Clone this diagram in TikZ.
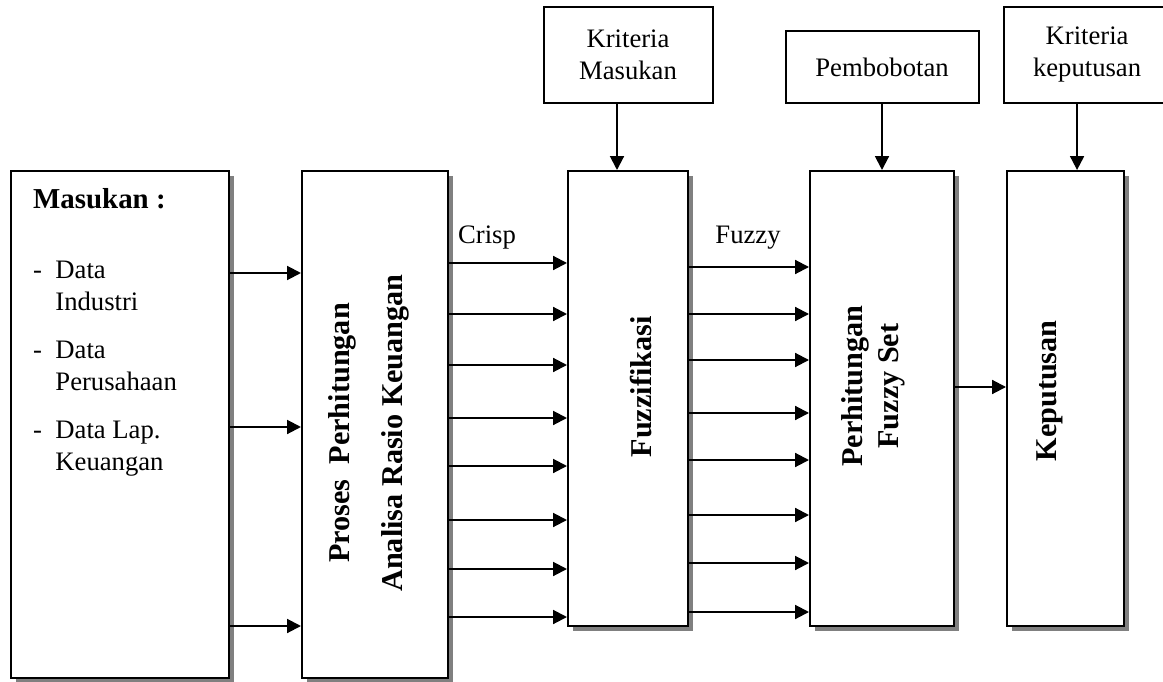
\documentclass[tikz,border=0pt]{standalone}
\usepackage{fontspec}
\setmainfont{Liberation Serif}
\usetikzlibrary{arrows.meta, positioning, calc, shadows}

\begin{document}
\begin{tikzpicture}[>={Triangle[length=6.2pt, width=6.2pt]}, line width=0.9pt,
  block/.style={draw, fill=white, inner sep=0pt,
    drop shadow={shadow xshift=2.3pt, shadow yshift=-2.3pt, fill=black!50, opacity=1}},
  topblock/.style={draw, fill=white, align=center, minimum height=43.2pt,
    font=\fontsize{12}{14.4}\selectfont},
  vtext/.style={rotate=90, align=center, font=\fontsize{13.6}{16.3}\selectfont\bfseries},
  flow/.style={->}]
  \useasboundingbox (0,0) rectangle (523.35pt,-306.9pt);

  % main row of blocks
  \node[block, minimum width=98.1pt, minimum height=228.15pt, anchor=north west]
    (masukan) at (4.5pt,-76.5pt) {};
  \node[block, minimum width=65.7pt, minimum height=228.15pt,
    right=31.95pt of masukan.north east, anchor=north west] (proses) {};
  \node[block, minimum width=54pt, minimum height=204.75pt,
    right=53.1pt of proses.north east, anchor=north west] (fuzz) {};
  \node[block, minimum width=64.8pt, minimum height=204.75pt,
    right=54pt of fuzz.north east, anchor=north west] (perh) {};
  \node[block, minimum width=52.65pt, minimum height=204.75pt,
    right=22.95pt of perh.north east, anchor=north west] (keput) {};

  % texts inside the blocks
  \node[anchor=north west, align=left, inner sep=0pt, font=\fontsize{12}{14.4}\selectfont]
    (masukantext) at ([xshift=10pt, yshift=-7.8pt]masukan.north west)
    {{\fontsize{13}{15.6}\selectfont\bfseries Masukan :}\\[17pt]
     \begin{tabular}[t]{@{}l@{\hspace{6pt}}l@{}}
       - & Data\\ & Industri\\[7.2pt]
       - & Data\\ & Perusahaan\\[7.2pt]
       - & Data Lap.\\ & Keuangan
     \end{tabular}};
  \node[vtext] (prosestext) at ([xshift=-2.7pt, yshift=-3.8pt]proses.center)
    {Proses\ \ Perhitungan\\[7.5pt]Analisa Rasio Keuangan};
  \node[vtext] (fuzztext) at ([xshift=5.8pt, yshift=5.2pt]fuzz.center) {Fuzzifikasi};
  \node[vtext] (perhtext) at ([xshift=-4pt, yshift=5.6pt]perh.center) {Perhitungan\\Fuzzy Set};
  \node[vtext] (keputtext) at ([xshift=-7pt, yshift=3.4pt]keput.center) {Keputusan};

  % criteria on top
  \node[topblock, minimum width=76.05pt, above=29.7pt of fuzz] (kritmas) {Kriteria\\Masukan};
  \node[topblock, minimum width=86.85pt, minimum height=32.4pt, above=29.7pt of perh] (bobot) {Pembobotan};
  \node[topblock, minimum width=74.7pt, above=29.7pt of keput, xshift=9.7pt] (kritkep) {Kriteria\\keputusan};

  \coordinate (inkm) at ([xshift=-4.95pt]fuzz.north);
  \coordinate (inkk) at ([xshift=5.2pt]keput.north);
  \draw[flow] (inkm |- kritmas.south) -- (inkm);
  \draw[flow] (bobot.south) -- (perh.north);
  \draw[flow] (inkk |- kritkep.south) -- (inkk);

  % flows between the blocks
  \foreach \d in {46.35, 115.65, 205.2}
    \draw[flow] ([yshift=-\d pt]masukan.north east) -- ([yshift=-\d pt]proses.north west);
  \foreach \d in {41.85, 64.8, 87.75, 111.6, 133.2, 157.5, 179.55, 201.15}
    \draw[flow] ([yshift=-\d pt]proses.north east) -- ([yshift=-\d pt]fuzz.north west);
  \foreach \d in {43.65, 64.8, 85.5, 109.35, 130.5, 155.25, 176.85, 198.9}
    \draw[flow] ([yshift=-\d pt]fuzz.north east) -- ([yshift=-\d pt]perh.north west);
  \draw[flow] ([yshift=-97.65pt]perh.north east) -- ([yshift=-97.65pt]keput.north west);

  \node[font=\fontsize{12}{14.4}\selectfont] (crisp) at ($(proses.north east)+(17.1pt,-30.6pt)$) {Crisp};
  \node[font=\fontsize{12}{14.4}\selectfont] (fuzzy) at ($(fuzz.north east)+(26.55pt,-30.6pt)$) {Fuzzy};
\end{tikzpicture}
\end{document}
